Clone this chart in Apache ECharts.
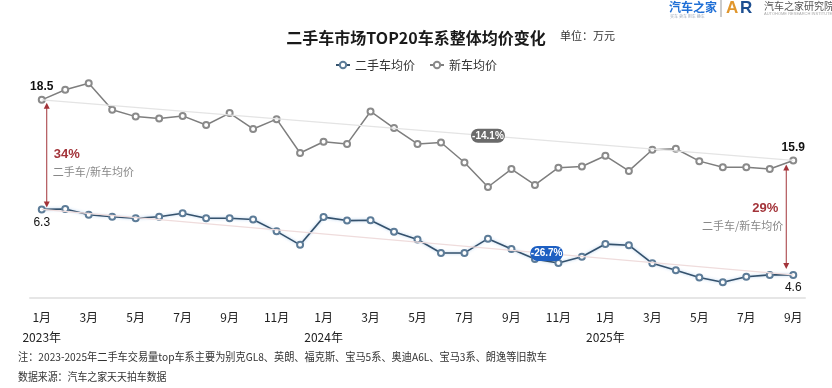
<!DOCTYPE html>
<html><head><meta charset="utf-8">
<script src="https://cdn.jsdelivr.net/npm/echarts@6/dist/echarts.min.js"></script>
<style>html,body{margin:0;padding:0;background:#fff}#c{width:832px;height:388px}</style>
</head><body><div id="c"></div>
<script>
const categories = ['2023-01','2023-02','2023-03','2023-04','2023-05','2023-06','2023-07','2023-08','2023-09','2023-10','2023-11','2023-12',
  '2024-01','2024-02','2024-03','2024-04','2024-05','2024-06','2024-07','2024-08','2024-09','2024-10','2024-11','2024-12',
  '2025-01','2025-02','2025-03','2025-04','2025-05','2025-06','2025-07','2025-08','2025-09'];
const usedPrice = [6.3,6.31,6.16,6.11,6.07,6.11,6.2,6.07,6.07,6.04,5.73,5.38,
  6.1,6.01,6.02,5.72,5.52,5.17,5.17,5.54,5.27,5.01,4.91,5.07,
  5.4,5.37,4.9,4.72,4.53,4.41,4.55,4.6,4.6];
const newPrice = [18.5,18.93,19.21,18.07,17.78,17.7,17.81,17.42,17.93,17.25,17.67,16.22,
  16.7,16.61,18.0,17.29,16.61,16.67,15.81,14.76,15.53,14.85,15.59,15.64,
  16.1,15.45,16.36,16.4,15.87,15.61,15.61,15.53,15.9];
const seriesNames = ['二手车均价','新车均价'];
const ratioLabels = ['34%','29%'];
const ratioCaption = '二手车/新车均价';
const changeLabels = ['-14.1%','-26.7%'];
const titleText = '二手车市场TOP20车系整体均价变化';
const unitText = '单位：万元';
const noteText = '注：2023-2025年二手车交易量top车系主要为别克GL8、英朗、福克斯、宝马5系、奥迪A6L、宝马3系、朗逸等旧款车';
const sourceText = '数据来源：汽车之家天天拍车数据';

const FONT = '"Noto Sans CJK SC","Noto Sans",sans-serif';
const last = categories.length - 1;
const chart = echarts.init(document.getElementById('c'));

function withEndLabels(arr, pos, bold) {
  return arr.map((v, i) => (i === 0 || i === last) ? {
    value: v,
    label: { show: true, position: pos, distance: 3, color: '#111', fontSize: 12,
      fontWeight: bold ? 'bold' : 'normal', fontFamily: 'Arial, "Liberation Sans", sans-serif' }
  } : v);
}

const option = {
  animation: false,
  backgroundColor: '#fff',
  title: {
    text: titleText, left: 'center', top: 25,
    textStyle: { fontSize: 16, fontWeight: 'bold', color: '#1a1a1a', fontFamily: FONT }
  },
  legend: {
    top: 54, left: 'center', itemWidth: 14, itemHeight: 8, itemGap: 14,
    textStyle: { fontSize: 12, color: '#333', fontFamily: FONT },
    data: seriesNames
  },
  grid: { left: 30, right: 27, top: 80, bottom: 90 },
  xAxis: {
    type: 'category', data: categories, boundaryGap: true,
    axisLine: { lineStyle: { color: '#e6e6e6', width: 2 } },
    axisTick: { show: false },
    axisLabel: {
      interval: 1, margin: 9, color: '#222', fontSize: 12, lineHeight: 20, fontFamily: FONT,
      formatter: function (val) {
        const parts = val.split('-');
        const m = parseInt(parts[1], 10) + '月';
        return parts[1] === '01' ? m + '\n' + parts[0] + '年' : m;
      }
    },
    splitLine: { show: false }
  },
  yAxis: [
    { type: 'value', min: 10, max: 19.35, show: false },
    { type: 'value', min: 4, max: 9.66, show: false }
  ],
  series: [
    {
      name: seriesNames[0], type: 'line', yAxisIndex: 1,
      data: withEndLabels(usedPrice, 'bottom', false),
      symbol: 'emptyCircle', symbolSize: 6,
      lineStyle: { color: '#34516c', width: 1.6, shadowColor: 'rgba(120,170,220,0.6)', shadowBlur: 3 },
      itemStyle: { color: '#5d7c98', borderColor: '#5d7c98', borderWidth: 1 },
      markLine: {
        silent: true, symbol: 'none', label: { show: false },
        lineStyle: { color: '#efdcdc', type: 'solid', width: 1.2 },
        data: [[{ coord: [0, usedPrice[0]] }, { coord: [last, usedPrice[last]] }]]
      },
      z: 3
    },
    {
      name: seriesNames[1], type: 'line', yAxisIndex: 0,
      data: withEndLabels(newPrice, 'top', true),
      symbol: 'emptyCircle', symbolSize: 6,
      lineStyle: { color: '#7e7e7e', width: 1.5 },
      itemStyle: { color: '#8a8a8a', borderColor: '#8a8a8a', borderWidth: 1 },
      markLine: {
        silent: true, symbol: 'none', label: { show: false },
        lineStyle: { color: '#e4e4e4', type: 'solid', width: 1.2 },
        data: [[{ coord: [0, newPrice[0]] }, { coord: [last, newPrice[last]] }]]
      },
      z: 3
    }
  ]
};
chart.setOption(option);

const pU0 = chart.convertToPixel({ seriesIndex: 0 }, [0, usedPrice[0]]);
const pUL = chart.convertToPixel({ seriesIndex: 0 }, [last, usedPrice[last]]);
const pN0 = chart.convertToPixel({ seriesIndex: 1 }, [0, newPrice[0]]);
const pNL = chart.convertToPixel({ seriesIndex: 1 }, [last, newPrice[last]]);
const RED = '#a3343a';

function arrow(x, y1, y2) {
  return [
    { type: 'line', shape: { x1: x, y1: y1 + 4, x2: x, y2: y2 - 4 }, style: { stroke: RED, lineWidth: 1 } },
    { type: 'polygon', shape: { points: [[x, y1], [x - 3, y1 + 6], [x + 3, y1 + 6]] }, style: { fill: RED } },
    { type: 'polygon', shape: { points: [[x, y2], [x - 3, y2 - 6], [x + 3, y2 - 6]] }, style: { fill: RED } }
  ];
}
function trendPoint(a, b, t) { return [a[0] + (b[0] - a[0]) * t, a[1] + (b[1] - a[1]) * t]; }
function pill(c, w, h, fill, text) {
  return [
    { type: 'rect', shape: { x: c[0] - w / 2, y: c[1] - h / 2, width: w, height: h, r: h / 2 }, style: { fill: fill }, z: 10 },
    { type: 'text', x: c[0], y: c[1], style: { text: text, fill: '#fff', font: 'bold 10px Arial, sans-serif', align: 'center', verticalAlign: 'middle' }, z: 11 }
  ];
}

const lx = pN0[0] + 5, rx = pNL[0] - 7;
const lMid = (pN0[1] + pU0[1]) / 2, rMid = (pNL[1] + pUL[1]) / 2;
const nPill = trendPoint(pN0, pNL, 19 / 32);
const uPill = trendPoint(pU0, pUL, 21.5 / 32);

const graphics = [].concat(
  arrow(lx, pN0[1] + 3, pU0[1] - 2),
  arrow(rx, pNL[1] + 4, pUL[1] - 6),
  [
    { type: 'text', x: lx + 7, y: lMid, style: { text: ratioLabels[0], fill: RED, font: 'bold 13px Arial, sans-serif', verticalAlign: 'middle' } },
    { type: 'text', x: lx + 6, y: lMid + 17, style: { text: ratioCaption, fill: '#888', font: '11px ' + FONT, verticalAlign: 'middle' } },
    { type: 'text', x: rx - 8, y: rMid - 9, style: { text: ratioLabels[1], fill: RED, font: 'bold 13px Arial, sans-serif', align: 'right', verticalAlign: 'middle' } },
    { type: 'text', x: rx - 3, y: rMid + 8, style: { text: ratioCaption, fill: '#888', font: '11px ' + FONT, align: 'right', verticalAlign: 'middle' } },
    { type: 'text', x: 560, y: 36, style: { text: unitText, fill: '#333', font: '11px ' + FONT, verticalAlign: 'middle' } },
    { type: 'text', x: 18, y: 357, scaleX: 0.925, style: { text: noteText, fill: '#333', font: '11px ' + FONT, verticalAlign: 'middle' } },
    { type: 'text', x: 18, y: 377, scaleX: 0.9, style: { text: sourceText, fill: '#333', font: '11px ' + FONT, verticalAlign: 'middle' } },
    { type: 'text', x: 669, y: 7, style: { text: '汽车之家', fill: '#1f6fd6', font: 'bold 12px ' + FONT, verticalAlign: 'middle' } },
    { type: 'text', x: 670, y: 16, style: { text: '买车 卖车 用车 换车', fill: '#9aa7b8', font: '4px ' + FONT, verticalAlign: 'middle' } },
    { type: 'line', shape: { x1: 721, y1: 0, x2: 721, y2: 17 }, style: { stroke: '#999', lineWidth: 1 } },
    { type: 'text', x: 726, y: 8, style: { text: 'A', fill: '#e0962c', font: 'bold 17px Arial, sans-serif', verticalAlign: 'middle' } },
    { type: 'text', x: 740, y: 8, style: { text: 'R', fill: '#1d4f91', font: 'bold 17px Arial, sans-serif', verticalAlign: 'middle' } },
    { type: 'text', x: 764, y: 6, style: { text: '汽车之家研究院', fill: '#555', font: '10px ' + FONT, verticalAlign: 'middle' } },
    { type: 'text', x: 764, y: 14, style: { text: 'AUTOHOME RESEARCH INSTITUTE', fill: '#aaa', font: '4px Arial, sans-serif', verticalAlign: 'middle' } }
  ],
  pill(nPill, 34, 14, '#6a6a6a', changeLabels[0]),
  pill(uPill, 33, 15, '#1d5fc2', changeLabels[1])
);
chart.setOption({ graphic: graphics });
</script>
</body></html>
